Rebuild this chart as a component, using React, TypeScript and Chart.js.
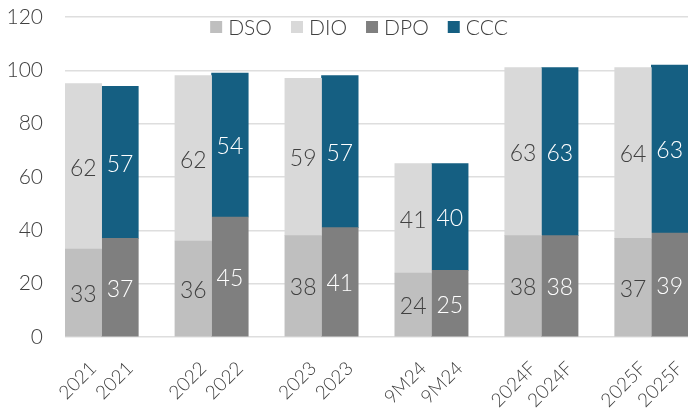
import React, { useEffect, useRef } from 'react';
import { Chart, registerables } from 'chart.js';

Chart.register(...registerables);

const periods = ['2021', '2022', '2023', '9M24', '2024F', '2025F'];
const dso = [33, 36, 38, 24, 38, 37];
const dio = [62, 62, 59, 41, 63, 64];
const dpo = [37, 45, 41, 25, 38, 39];
const ccc = [57, 54, 57, 40, 63, 63];
const yTicks = [0, 20, 40, 60, 80, 100, 120];

const FONT = 'Lato';
const TEXT = '#404040';

// 17 category slots: left bar, right bar, gap, ...
const labels: string[] = [];
periods.forEach((p, i) => {
  labels.push(p, p);
  if (i < periods.length - 1) labels.push('');
});
const placeLeft = (arr: number[]) => {
  const out: (number | null)[] = [];
  arr.forEach((v, i) => {
    out.push(v, null);
    if (i < arr.length - 1) out.push(null);
  });
  return out;
};
const placeRight = (arr: number[]) => {
  const out: (number | null)[] = [];
  arr.forEach((v, i) => {
    out.push(null, v);
    if (i < arr.length - 1) out.push(null);
  });
  return out;
};

const valueLabels = {
  id: 'valueLabels',
  afterDatasetsDraw(chart: any) {
    const ctx = chart.ctx;
    ctx.save();
    ctx.font = `300 23px ${FONT}`;
    ctx.textAlign = 'center';
    ctx.textBaseline = 'middle';
    chart.data.datasets.forEach((ds: any, di: number) => {
      const meta = chart.getDatasetMeta(di);
      meta.data.forEach((el: any, i: number) => {
        const v = ds.data[i];
        if (v == null) return;
        const { x, y, base } = el.getProps(['x', 'y', 'base'], true);
        ctx.fillStyle = ds.labelColor;
        ctx.fillText(String(v), x, (y + base) / 2 + 2);
      });
    });
    ctx.restore();
  },
};

const overlayLegend = {
  id: 'overlayLegend',
  afterDraw(chart: any) {
    const ctx = chart.ctx;
    ctx.save();
    ctx.font = `300 21px ${FONT}`;
    ctx.textBaseline = 'middle';
    ctx.textAlign = 'left';
    const box = 12;
    const boxGap = 6;
    const itemGap = 19;
    const items = chart.data.datasets.map((ds: any) => ({
      label: ds.label,
      color: ds.backgroundColor,
      w: ctx.measureText(ds.label).width,
    }));
    const total = items.reduce((s: number, it: any) => s + box + boxGap + it.w, 0) + itemGap * (items.length - 1);
    let x = 359 - total / 2;
    const yc = 27;
    items.forEach((it: any) => {
      ctx.fillStyle = it.color;
      ctx.fillRect(x, yc - box / 2, box, box);
      x += box + boxGap;
      ctx.fillStyle = TEXT;
      ctx.fillText(it.label, x, yc + 1);
      x += it.w + itemGap;
    });
    ctx.restore();
  },
};

export default function App() {
  const ref = useRef<HTMLCanvasElement>(null);
  useEffect(() => {
    if (!ref.current) return;
    const chart = new Chart(ref.current, {
      type: 'bar',
      data: {
        labels,
        datasets: [
          { label: 'DSO', data: placeLeft(dso), backgroundColor: '#BFBFBF', labelColor: TEXT } as any,
          { label: 'DIO', data: placeLeft(dio), backgroundColor: '#D9D9D9', labelColor: TEXT } as any,
          { label: 'DPO', data: placeRight(dpo), backgroundColor: '#7F7F7F', labelColor: '#FFFFFF' } as any,
          { label: 'CCC', data: placeRight(ccc), backgroundColor: '#155F82', labelColor: '#FFFFFF' } as any,
        ],
      },
      options: {
        animation: false,
        responsive: true,
        maintainAspectRatio: false,
        layout: { padding: { top: 17, right: 5, left: 0, bottom: 0 } },
        datasets: { bar: { barPercentage: 1, categoryPercentage: 1, skipNull: false } },
        plugins: {
          legend: { display: false },
          tooltip: { enabled: false },
        },
        scales: {
          x: {
            stacked: true,
            grid: { display: false, drawTicks: false },
            border: { display: false },
            ticks: {
              autoSkip: false,
              maxRotation: 45,
              minRotation: 45,
              padding: 20,
              labelOffset: 10,
              color: TEXT,
              font: { family: FONT, size: 19, weight: 300 as any },
            },
            afterFit: (scale: any) => {
              scale.height = 77;
              scale.paddingLeft = 0;
              scale.paddingRight = 0;
            },
          },
          y: {
            stacked: true,
            min: 0,
            max: 120,
            afterBuildTicks: (scale: any) => {
              scale.ticks = yTicks.map((v) => ({ value: v }));
            },
            grid: { color: '#DEDEDE', lineWidth: 1.5, drawTicks: false },
            border: { display: false },
            ticks: {
              padding: 22,
              color: TEXT,
              font: { family: FONT, size: 21, weight: 300 as any },
            },
            afterFit: (scale: any) => {
              scale.width = 65;
              scale.paddingTop = 0;
              scale.paddingBottom = 0;
            },
          },
        },
      },
      plugins: [valueLabels, overlayLegend],
    });
    return () => chart.destroy();
  }, []);
  return (
    <div style={{ position: 'fixed', left: 0, top: 0, width: 693, height: 414, background: '#fff' }}>
      <canvas ref={ref} />
    </div>
  );
}
